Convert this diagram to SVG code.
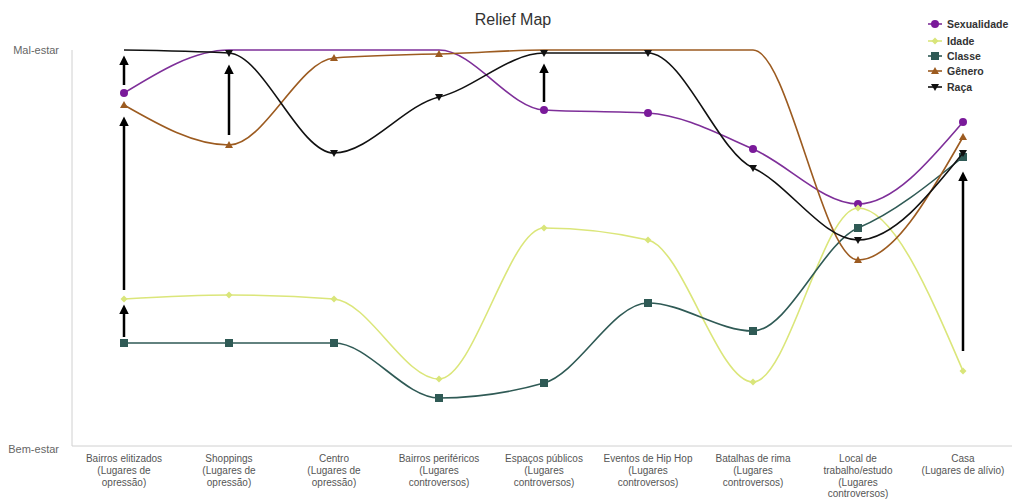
<svg xmlns="http://www.w3.org/2000/svg" xmlns:xlink="http://www.w3.org/1999/xlink" width="1016" height="500" viewBox="0 0 1016 500">
<style>
text{font-family:"Liberation Sans",Arial,sans-serif;stroke:none}
.title{font-size:16px;fill:#333;text-anchor:middle}
.ylab{font-size:11px;fill:#666;text-anchor:end}
.xlab{font-size:10px;fill:#555;text-anchor:middle}
.leg{font-size:10.5px;font-weight:bold;fill:#333}
.axis{stroke:#d0d0d0;stroke-width:1;fill:none}
.ln{fill:none;stroke-width:1.6}
.sex{stroke:#7e2f99;fill:#7a1a9a}
.ida{stroke:#dbe67a;fill:#d9e57a}
.cla{stroke:#2f5a55;fill:#2f5a55}
.gen{stroke:#9c5b20;fill:#9c5b20}
.rac{stroke:#111;fill:#111}
.arr{stroke:#000;stroke-width:2.5;fill:none;marker-end:url(#ah)}
</style>
<defs>
<marker id="ah" markerUnits="userSpaceOnUse" markerWidth="10" markerHeight="10" refX="4" refY="4.5" orient="auto" viewBox="0 0 9 9">
<path d="M0,0 L9,4.5 L0,9 z" fill="#000"/>
</marker>
<circle id="mc" r="4" stroke="none"/>
<path id="md" d="M0,-3.5 L3.5,0 L0,3.5 L-3.5,0 z" stroke="none"/>
<rect id="ms" x="-4" y="-4" width="8" height="8" stroke="none"/>
<path id="mu" d="M0,-4 L4,3 L-4,3 z" stroke="none"/>
<path id="mv" d="M0,4 L4,-3 L-4,-3 z" stroke="none"/>
</defs>
<rect width="1016" height="500" fill="#fff"/>
<text class="title" x="513" y="25">Relief Map</text>
<g id="axes">
<line class="axis" x1="72" y1="50" x2="72" y2="446"/>
<line class="axis" x1="72" y1="446" x2="1012" y2="446"/>
<text class="ylab" x="59" y="54">Mal-estar</text>
<text class="ylab" x="59" y="453">Bem-estar</text>
</g>
<g id="xlabels">
<text class="xlab" x="124" y="462">Bairros elitizados<tspan x="124" dy="11.8">(Lugares de</tspan><tspan x="124" dy="11.8">opressão)</tspan></text>
<text class="xlab" x="229" y="462">Shoppings<tspan x="229" dy="11.8">(Lugares de</tspan><tspan x="229" dy="11.8">opressão)</tspan></text>
<text class="xlab" x="334" y="462">Centro<tspan x="334" dy="11.8">(Lugares de</tspan><tspan x="334" dy="11.8">opressão)</tspan></text>
<text class="xlab" x="439" y="462">Bairros periféricos<tspan x="439" dy="11.8">(Lugares</tspan><tspan x="439" dy="11.8">controversos)</tspan></text>
<text class="xlab" x="544" y="462">Espaços públicos<tspan x="544" dy="11.8">(Lugares</tspan><tspan x="544" dy="11.8">controversos)</tspan></text>
<text class="xlab" x="648" y="462">Eventos de Hip Hop<tspan x="648" dy="11.8">(Lugares</tspan><tspan x="648" dy="11.8">controversos)</tspan></text>
<text class="xlab" x="753" y="462">Batalhas de rima<tspan x="753" dy="11.8">(Lugares</tspan><tspan x="753" dy="11.8">controversos)</tspan></text>
<text class="xlab" x="858" y="462">Local de<tspan x="858" dy="11.8">trabalho/estudo</tspan><tspan x="858" dy="11.8">(Lugares</tspan><tspan x="858" dy="11.8">controversos)</tspan></text>
<text class="xlab" x="963" y="462">Casa<tspan x="963" dy="11.8">(Lugares de alívio)</tspan></text>
</g>
<g id="sexualidade" class="sex">
<path class="ln sex" style="fill:none" d="M124,93 C159,71.5 194,50 229,50 C264,50 299,50 334,50 C369,50 404,50 439,50 C474,50 509,108 544,110 C579,112 613,111 648,113 C683,115 718,133.8 753,149 C788,164.2 823,204 858,204 C893,204 928,163 963,122"/>
<use href="#mc" x="124" y="93"/><use href="#mc" x="544" y="110"/><use href="#mc" x="648" y="113"/><use href="#mc" x="753" y="149"/><use href="#mc" x="858" y="204"/><use href="#mc" x="963" y="122"/>
</g>
<g id="idade" class="ida">
<path class="ln ida" style="fill:none" d="M124,299 C159,297 194,295 229,295 C264,295 299,296.3 334,299 C369,301.7 404,379 439,379 C474,379 509,228 544,228 C579,228 613,232 648,240 C683,248 718,382 753,382 C788,382 823,208 858,208 C893,208 928,289.5 963,371"/>
<use href="#md" x="124" y="299"/><use href="#md" x="229" y="295"/><use href="#md" x="334" y="299"/><use href="#md" x="439" y="379"/><use href="#md" x="544" y="228"/><use href="#md" x="648" y="240"/><use href="#md" x="753" y="382"/><use href="#md" x="858" y="208"/><use href="#md" x="963" y="371"/>
</g>
<g id="classe" class="cla">
<path class="ln cla" style="fill:none" d="M124,343 C159,343 194,343 229,343 C264,343 299,343 334,343 C369,343 404,398 439,398 C474,398 509,393 544,383 C579,373 613,303 648,303 C683,303 718,331 753,331 C788,331 823,242.5 858,228 C893,213.5 928,185.25 963,157"/>
<use href="#ms" x="124" y="343"/><use href="#ms" x="229" y="343"/><use href="#ms" x="334" y="343"/><use href="#ms" x="439" y="398"/><use href="#ms" x="544" y="383"/><use href="#ms" x="648" y="303"/><use href="#ms" x="753" y="331"/><use href="#ms" x="858" y="228"/><use href="#ms" x="963" y="157"/>
</g>
<g id="genero" class="gen">
<path class="ln gen" style="fill:none" d="M124,105 C159,125 194,145 229,145 C264,145 299,60.67 334,58 C369,55.33 404,54.67 439,54 C474,53.33 509,50 544,50 C579,50 613,50 648,50 C683,50 718,50 753,50 C788,50 823,260 858,260 C893,260 928,198.5 963,137"/>
<use href="#mu" x="124" y="105"/><use href="#mu" x="229" y="145"/><use href="#mu" x="334" y="58"/><use href="#mu" x="439" y="54"/><use href="#mu" x="858" y="260"/><use href="#mu" x="963" y="137"/>
</g>
<g id="raca" class="rac">
<path class="ln rac" style="fill:none" d="M124,50 C159,50.5 194,51 229,53 C264,55 299,153 334,153 C369,153 404,105.33 439,97 C474,88.67 509,53 544,53 C579,53 613,53 648,53 C683,53 718,152.42 753,168 C788,183.58 823,240 858,240 C893,240 928,196.5 963,153"/>
<use href="#mv" x="229" y="53"/><use href="#mv" x="334" y="153"/><use href="#mv" x="439" y="97"/><use href="#mv" x="544" y="53"/><use href="#mv" x="648" y="53"/><use href="#mv" x="753" y="168"/><use href="#mv" x="858" y="240"/><use href="#mv" x="963" y="153"/>
</g>
<g id="arrows">
<line class="arr" x1="124" y1="85" x2="124" y2="61"/>
<line class="arr" x1="124" y1="290" x2="124" y2="122"/>
<line class="arr" x1="124" y1="337" x2="124" y2="310"/>
<line class="arr" x1="229" y1="135" x2="229" y2="70"/>
<line class="arr" x1="544" y1="102" x2="544" y2="69"/>
<line class="arr" x1="963" y1="351" x2="963" y2="177"/>
</g>
<g id="legend">
<g class="sex"><line x1="928" y1="24" x2="942" y2="24" stroke-width="1.6"/><use href="#mc" x="935" y="24"/><text class="leg" x="947" y="28">Sexualidade</text></g>
<g class="ida"><line x1="928" y1="41" x2="942" y2="41" stroke-width="1.6"/><use href="#md" x="935" y="41"/><text class="leg" x="947" y="45">Idade</text></g>
<g class="cla"><line x1="928" y1="56" x2="942" y2="56" stroke-width="1.6"/><use href="#ms" x="935" y="56"/><text class="leg" x="947" y="60">Classe</text></g>
<g class="gen"><line x1="928" y1="71" x2="942" y2="71" stroke-width="1.6"/><use href="#mu" x="935" y="71"/><text class="leg" x="947" y="75">Gênero</text></g>
<g class="rac"><line x1="928" y1="87" x2="942" y2="87" stroke-width="1.6"/><use href="#mv" x="935" y="87"/><text class="leg" x="947" y="91">Raça</text></g>
</g>
</svg>
